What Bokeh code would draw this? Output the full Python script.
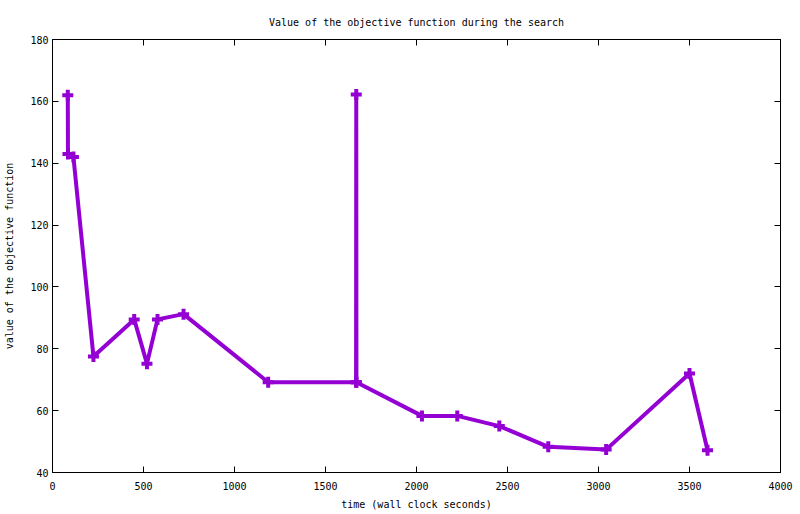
from bokeh.plotting import figure
from bokeh.models import LinearAxis, Range1d, FixedTicker, Title, CustomJSTickFormatter
from bokeh.embed import file_html
from bokeh.resources import INLINE

time_s = [84, 85, 115, 225, 449, 519, 577, 720, 1185, 1668, 1669, 1670, 2030, 2224, 2455, 2724, 3042, 3500, 3599]
objective = [162, 143, 142, 77.5, 89.5, 75.2, 89.5, 91.2, 69.2, 69.2, 162.2, 69.2, 58.3, 58.3, 55.0, 48.3, 47.4, 72.0, 47.2]
x_ticks = [0, 500, 1000, 1500, 2000, 2500, 3000, 3500, 4000]
y_ticks = [40, 60, 80, 100, 120, 140, 160, 180]

FONT = "DejaVu Sans Mono"
COLOR = "#9400D3"

p = figure(frame_width=728, frame_height=433, output_backend="svg", toolbar_location=None,
           x_range=Range1d(0, 4000), y_range=Range1d(40, 180),
           min_border_left=52, min_border_right=18, min_border_top=39, min_border_bottom=40,
           x_axis_location=None, y_axis_location=None)
p.title = Title(text="Value of the objective function during the search", align="center",
                text_font=FONT, text_font_size="10px", text_font_style="normal",
                text_color="black", offset=0, standoff=24)
p.grid.visible = False
p.outline_line_color = "black"
p.outline_line_width = 1
p.background_fill_color = "white"
p.border_fill_color = "white"

def make_axis(cls_kwargs, ticks, labels=True):
    ax = LinearAxis(**cls_kwargs)
    ax.ticker = FixedTicker(ticks=ticks)
    ax.major_tick_in = 6
    ax.major_tick_out = 0
    ax.minor_tick_in = 0
    ax.minor_tick_out = 0
    ax.axis_line_color = "black"
    ax.major_tick_line_color = "black"
    ax.major_label_text_font = FONT
    ax.major_label_text_font_size = "10px"
    ax.major_label_text_color = "black"
    ax.axis_label_text_font = FONT
    ax.axis_label_text_font_size = "10px"
    ax.axis_label_text_font_style = "normal"
    ax.axis_label_text_color = "black"
    if not labels:
        ax.formatter = CustomJSTickFormatter(code="return ''")
        ax.major_label_standoff = 0
    return ax

xb = make_axis(dict(axis_label="time (wall clock seconds)"), x_ticks)
xb.major_label_standoff = 9
xb.axis_label_standoff = 6
p.add_layout(xb, "below")

yl = make_axis(dict(axis_label="value of the objective function"), y_ticks)
yl.major_label_standoff = 4
yl.axis_label_standoff = 12
p.add_layout(yl, "left")

p.add_layout(make_axis(dict(), x_ticks, labels=False), "above")
p.add_layout(make_axis(dict(), y_ticks, labels=False), "right")

p.line(time_s, objective, line_color=COLOR, line_width=4)
p.scatter(time_s, objective, marker="cross", size=11, line_color=COLOR, line_width=4)

open("out.html", "w").write(file_html(p, INLINE))
